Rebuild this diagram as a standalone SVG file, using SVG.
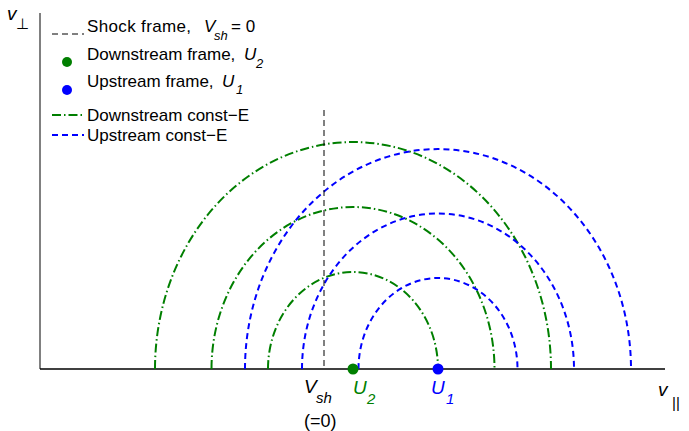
<svg xmlns="http://www.w3.org/2000/svg" width="689" height="431" viewBox="0 0 689 431">
<style>
text{font-family:"Liberation Sans",Arial,sans-serif;fill:#000}
.lg{font-size:17px}
.sub{font-size:13px;font-style:italic}
.it{font-style:italic}
.gr{fill:none;stroke:#007f00;stroke-width:2;stroke-dasharray:9 3 1.5 3}
.bl{fill:none;stroke:#0000ff;stroke-width:2;stroke-dasharray:6 4}
.sh{fill:none;stroke:#000;stroke-width:1;stroke-dasharray:6 4}
</style>
<rect width="689" height="431" fill="#fff"/>
<g id="axes">
<line x1="40" y1="13" x2="40" y2="369" stroke="#808080" stroke-width="2"/>
<line x1="40" y1="369" x2="665" y2="369" stroke="#000" stroke-width="1.5"/>
<text x="7" y="20" font-size="19" class="it">v</text>
<text x="16" y="29" font-size="15">⊥</text>
<text x="658" y="396" font-size="19" class="it">v</text>
<text x="672" y="408" font-size="15">||</text>
</g>
<g id="connectors">
<path class="gr" d="M268,369 A85,97 0 0 1 438,369"/>
<path class="gr" d="M211.5,369 A141.5,162 0 0 1 494.5,369"/>
<path class="gr" d="M155,369 A198,227 0 0 1 551,369"/>
<path class="bl" d="M358.5,369 A79.5,91 0 0 1 517.5,369"/>
<path class="bl" d="M302,369 A136,155.5 0 0 1 574,369"/>
<path class="bl" d="M245,369 A193,220 0 0 1 631,369"/>
<line class="sh" x1="324" y1="110" x2="324" y2="369"/>
</g>
<g id="U2">
<circle cx="353" cy="369" r="5.5" fill="#007f00"/>
<text x="353" y="394" font-size="19" class="it" style="fill:#007f00">U</text>
<text x="367" y="404" font-size="15" class="it" style="fill:#007f00">2</text>
</g>
<g id="U1">
<circle cx="438" cy="369" r="5.5" fill="#0000ff"/>
<text x="431" y="394" font-size="19" class="it" style="fill:#0000ff">U</text>
<text x="446" y="404" font-size="15" class="it" style="fill:#0000ff">1</text>
</g>
<g id="Vsh">
<text x="304" y="393" font-size="19" class="it">V</text>
<text x="316" y="403" font-size="15" class="it">sh</text>
<text x="304" y="427" font-size="18">(=0)</text>
</g>
<g id="legend">
<line class="sh" x1="52" y1="34" x2="84" y2="34"/>
<text class="lg" x="87" y="32" textLength="104">Shock frame,</text>
<text class="lg it" x="204" y="32">V</text>
<text class="sub" x="214" y="40">sh</text>
<text class="lg" x="231" y="32">= 0</text>
<circle cx="67" cy="62" r="5" fill="#007f00"/>
<text class="lg" x="87" y="60">Downstream frame,</text>
<text class="lg it" x="244" y="60">U</text>
<text class="sub" x="256" y="68">2</text>
<circle cx="67" cy="90" r="5" fill="#0000ff"/>
<text class="lg" x="87" y="87">Upstream frame,</text>
<text class="lg it" x="222" y="87">U</text>
<text class="sub" x="236" y="94">1</text>
<line class="gr" x1="52" y1="115" x2="84" y2="115"/>
<text class="lg" x="87" y="121">Downstream const−E</text>
<line class="bl" x1="52" y1="135" x2="84" y2="135"/>
<text class="lg" x="87" y="141">Upstream const−E</text>
</g>
</svg>
